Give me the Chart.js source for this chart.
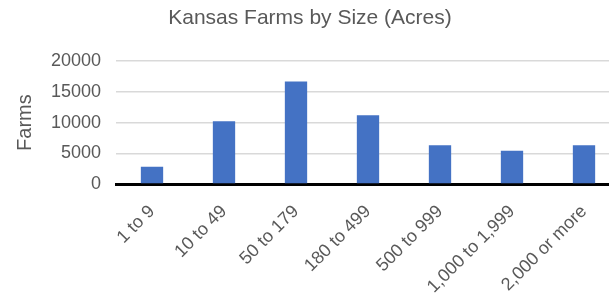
<!DOCTYPE html>
<html>
<head>
<meta charset="utf-8">
<script src="https://cdn.jsdelivr.net/npm/chart.js@4"></script>
<style>
  html, body { margin: 0; padding: 0; background: #fff; overflow: hidden; }
  #wrap { width: 630px; height: 301px; }
</style>
</head>
<body>
<div id="wrap"><canvas id="farmsChart" width="630" height="301"></canvas></div>
<script>
// farm size classes (acres) and number of farms
const sizeClasses = ['1 to 9', '10 to 49', '50 to 179', '180 to 499', '500 to 999', '1,000 to 1,999', '2,000 or more'];
const farmCounts = [2800, 10200, 16700, 11200, 6300, 5400, 6300];
const yTicks = [0, 5000, 10000, 15000, 20000];

const grey = '#595959';
const fontFamily = "'Liberation Sans', Arial, sans-serif";

new Chart(document.getElementById('farmsChart'), {
  type: 'bar',
  data: {
    labels: sizeClasses,
    datasets: [{
      label: 'Farms',
      data: farmCounts,
      backgroundColor: '#4472C4',
      barPercentage: 1,
      categoryPercentage: 0.31
    }]
  },
  options: {
    responsive: false,
    animation: false,
    layout: { padding: { left: 0, right: 10, top: 0, bottom: 0 } },
    plugins: {
      legend: { display: false },
      tooltip: { enabled: false },
      title: {
        display: true,
        text: 'Kansas Farms by Size (Acres)',
        color: grey,
        font: { family: fontFamily, size: 21, weight: 'normal' },
        padding: { top: 6, bottom: 30 }
      }
    },
    scales: {
      x: {
        grid: { display: false },
        border: { display: true, color: '#000', width: 3 },
        ticks: {
          color: grey,
          font: { family: fontFamily, size: 18 },
          maxRotation: 45,
          minRotation: 45,
          padding: 9
        },
        afterFit: (scale) => { scale.height = 117; }
      },
      y: {
        min: 0,
        max: 20000,
        afterBuildTicks: (scale) => { scale.ticks = yTicks.map(v => ({ value: v })); },
        grid: { color: '#d9d9d9', lineWidth: 1.5, drawTicks: false },
        border: { display: false },
        ticks: {
          color: grey,
          font: { family: fontFamily, size: 18 },
          padding: 15,
          callback: (v) => String(v)
        },
        title: {
          display: true,
          text: 'Farms',
          color: grey,
          font: { family: fontFamily, size: 20 },
          padding: { top: 13, bottom: 0 }
        },
        afterFit: (scale) => { scale.width = 116; }
      }
    }
  }
});
</script>
</body>
</html>
